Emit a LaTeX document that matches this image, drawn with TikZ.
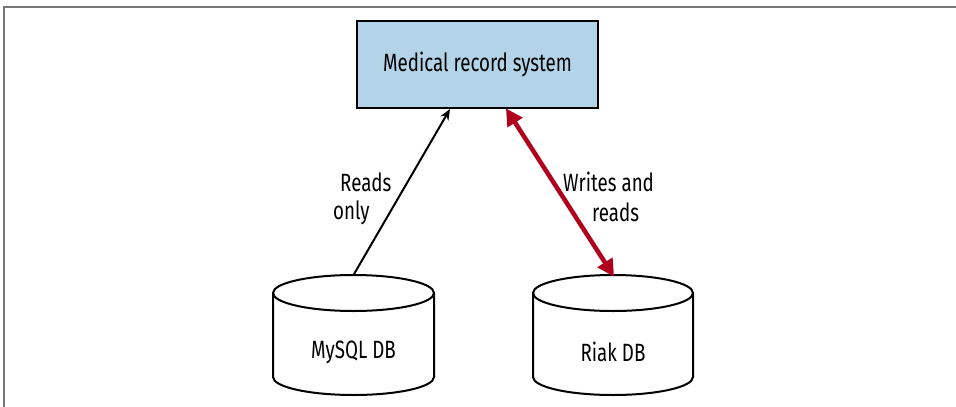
\documentclass[tikz,border=0pt]{standalone}
\usepackage{fontspec}
\setmainfont{Fira Sans}[FakeStretch=0.75]
\usetikzlibrary{arrows.meta}
\definecolor{boxblue}{HTML}{B3D4E8}
\definecolor{linkred}{HTML}{B0001E}
\definecolor{framegray}{HTML}{777777}
\tikzset{
  sysbox/.style={draw=black, line width=2.2pt, fill=boxblue, minimum width=241pt, minimum height=87pt, inner sep=0pt, font=\fontsize{25}{27}\selectfont},
  lbl/.style={font=\fontsize{25}{27}\selectfont, inner sep=0pt},
  dbline/.style={draw=black, line width=2pt},
  readarrow/.style={draw=black, line width=2pt, -{Stealth[length=11pt,width=9pt]}},
  rwarrow/.style={draw=linkred, line width=4.5pt, {Triangle[length=17pt,width=17pt]}-{Triangle[length=17pt,width=17pt]}, shorten <=-2pt, shorten >=-2pt},
}
\begin{document}
\begin{tikzpicture}[x=1pt,y=-1pt]
\useasboundingbox (0,0) rectangle (956,407);
% frame
\draw[framegray, line width=2pt] (3.5,407) -- (3.5,6.5) -- (956,6.5);
% system box
\node[sysbox] (sys) at (477.5,64.5) {Medical record system};
% MySQL cylinder
\draw[dbline] (273,293) -- (273,377) arc[start angle=180,end angle=0,x radius=80.5,y radius=18] -- (434,293);
\draw[dbline] (353.5,293) ellipse[x radius=80.5,y radius=18];
\coordinate (mysqltop) at (353.5,275);
\node[lbl] (mysql) at (353.5,352) {MySQL DB};
% Riak cylinder
\draw[dbline] (533,293) -- (533,377) arc[start angle=180,end angle=0,x radius=80,y radius=18] -- (693,293);
\draw[dbline] (613,293) ellipse[x radius=80,y radius=18];
\coordinate (riaktop) at (613,275);
\node[lbl] (riak) at (613,352) {Riak DB};
% connectors
\coordinate (sysA) at (450,109);
\coordinate (sysB) at (507,110);
\draw[readarrow] (mysqltop) -- (sysA);
\draw[rwarrow] (sysB) -- (riaktop);
% labels
\node[lbl, anchor=west] (reads) at (340,182) {Reads};
\node[lbl, anchor=west] (only) at (333,213) {only};
\node[lbl, anchor=west] (writes) at (563,182) {Writes and};
\node[lbl, anchor=west] (wreads) at (592,212) {reads};
\end{tikzpicture}
\end{document}
